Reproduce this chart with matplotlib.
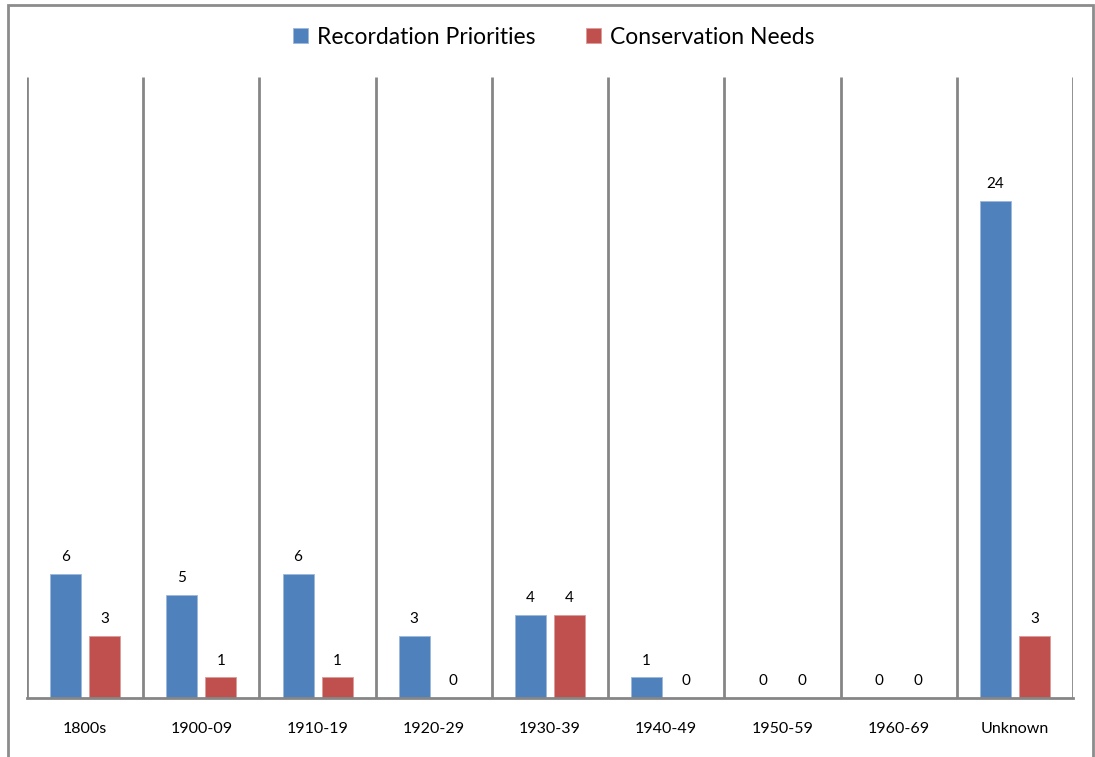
import matplotlib.pyplot as plt
import numpy as np
from matplotlib.patches import Rectangle

# data
categories = ['1800s', '1900-09', '1910-19', '1920-29', '1930-39',
              '1940-49', '1950-59', '1960-69', 'Unknown']
recordation = [6, 5, 6, 3, 4, 1, 0, 0, 24]
conservation = [3, 1, 1, 0, 4, 0, 0, 0, 3]

blue = '#4F81BD'
red = '#C0504D'
grey = '#868686'

plt.rcParams['font.family'] = ['Lato', 'DejaVu Sans']

fig = plt.figure(figsize=(10.95, 7.57), dpi=100)
ax = fig.add_axes([27 / 1095, 1 - 698 / 757, 1046 / 1095, 621 / 757])

x = np.arange(len(categories))
w = 0.267
off = 0.168
b1 = ax.bar(x - off, recordation, w, color=blue, edgecolor='#9DB7DA',
            linewidth=0.6, label='Recordation Priorities')
b2 = ax.bar(x + off, conservation, w, color=red, edgecolor='#DC9A98',
            linewidth=0.6, label='Conservation Needs')

for bars, vals in ((b1, recordation), (b2, conservation)):
    for r, v in zip(bars, vals):
        ax.annotate(str(v), (r.get_x() + r.get_width() / 2, v),
                    xytext=(0, 7), textcoords='offset points',
                    ha='center', va='bottom', fontsize=11)

ax.set_xlim(-0.5, len(categories) - 0.5)
ax.set_ylim(0, 30)

# vertical separators between categories
ax.vlines(np.arange(len(categories) + 1) - 0.5, 0, 30, color=grey,
          linewidth=2, zorder=0)

for s in ('top', 'left', 'right'):
    ax.spines[s].set_visible(False)
ax.spines['bottom'].set_color(grey)
ax.spines['bottom'].set_linewidth(2)
ax.set_yticks([])
ax.set_xticks(x)
ax.set_xticklabels(categories, fontsize=11.5)
ax.tick_params(axis='x', length=0, pad=17)

fig.legend(loc='center', bbox_to_anchor=(554 / 1095, 1 - 37 / 757), ncol=2,
           frameon=False, fontsize=16.5, handlelength=0.65, handleheight=0.65,
           handletextpad=0.4, columnspacing=2.2)

# outer chart-area border (bottom runs off the image)
fig.patches.append(Rectangle((8 / 1095, -0.05), (1093 - 8) / 1095,
                             1.05 - 5 / 757, transform=fig.transFigure,
                             fill=False, edgecolor='#8C8C8C', linewidth=2))

fig.savefig('out.png', dpi=100)
